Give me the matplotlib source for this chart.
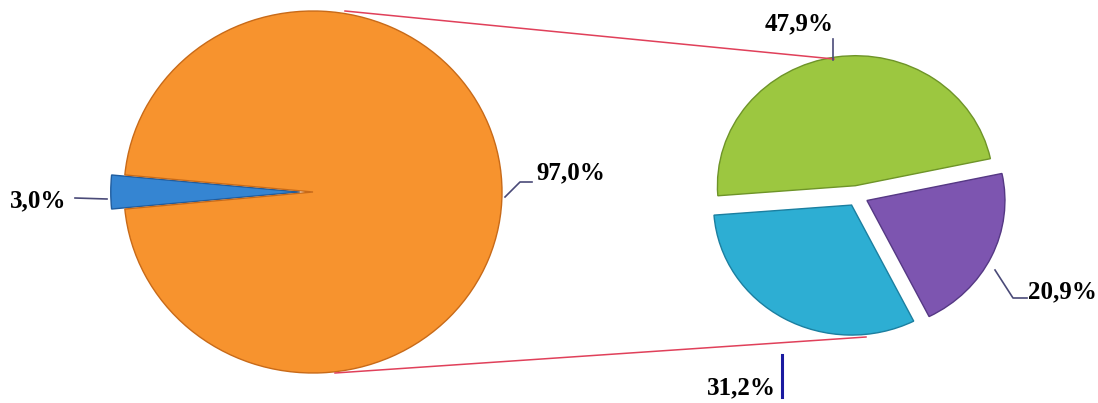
import matplotlib
matplotlib.use('Agg')
import matplotlib.pyplot as plt

W, H = 1098, 403

# main pie
main_values = [3.0, 97.0]
main_labels = ['3,0%', '97,0%']
main_colors = ['#3585D2', '#F7932E']

# secondary pie (split of the 3%)
sub_values = [47.9, 31.2, 20.9]
sub_labels = ['47,9%', '31,2%', '20,9%']
sub_colors = ['#9CC740', '#2DAED3', '#7D55B0']


def pie_axes(fig, cx, cy, rx, ry):
    # axes box in figure fraction for an ellipse given in pixels
    ax = fig.add_axes([(cx - rx) / W, (H - cy - ry) / H, 2 * rx / W, 2 * ry / H])
    ax.set_xlim(-1, 1)
    ax.set_ylim(-1, 1)
    ax.axis('off')
    return ax


fig = plt.figure(figsize=(W / 100, H / 100), dpi=100)

ax1 = pie_axes(fig, 313, 192, 189, 181)
start1 = 180 - main_values[0] / sum(main_values) * 360 / 2
wedges1, _ = ax1.pie(main_values, colors=main_colors, startangle=start1,
                     explode=[0.07, 0.0], radius=1.0, center=(0, 0),
                     wedgeprops=dict(edgecolor='#C86A18', linewidth=1.0))
ax1.set_aspect('auto')
ax1.set_xlim(-1, 1)
ax1.set_ylim(-1, 1)
wedges1[0].set_edgecolor('#1F5C9E')

ax2 = pie_axes(fig, 857, 196, 138, 130)
wedges2, _ = ax2.pie(sub_values, colors=sub_colors, startangle=12,
                     explode=[0.08, 0.08, 0.08], radius=1.0, center=(0, 0),
                     wedgeprops=dict(linewidth=1.0))
ax2.set_aspect('auto')
ax2.set_xlim(-1, 1)
ax2.set_ylim(-1, 1)
for w, ec in zip(wedges2, ['#6E9428', '#1B7FA0', '#553884']):
    w.set_edgecolor(ec)

for w in list(wedges1) + list(wedges2):
    w.set_clip_on(False)

# overlay in pixel coordinates for connector lines and labels
ov = fig.add_axes([0, 0, 1, 1], zorder=5)
ov.set_xlim(0, W)
ov.set_ylim(H, 0)
ov.axis('off')
ov.patch.set_alpha(0)

ov.plot([345, 834], [11, 59], color='#E0405A', lw=1.1)
ov.plot([335, 866], [373, 337], color='#E0405A', lw=1.1)

lead = '#4A4A78'
ov.plot([75, 107], [198, 199], color=lead, lw=1.2)
ov.plot([505, 520, 532], [197, 182, 182], color=lead, lw=1.2)
ov.plot([833, 833], [39, 60], color=lead, lw=1.2)
ov.plot([782, 782], [355, 397], color='#1A1AA0', lw=2.2)
ov.plot([995, 1013, 1027], [270, 298, 298], color=lead, lw=1.2)

font = dict(family='Liberation Serif', weight='bold', size=18, color='black',
            ha='left', va='center')
ov.text(10, 201, main_labels[0], **font)
ov.text(536, 173, main_labels[1], **font)
ov.text(765, 24, sub_labels[0], **font)
ov.text(707, 388, sub_labels[1], **font)
ov.text(1028, 292, sub_labels[2], **font)

fig.savefig('out.png', dpi=100)
